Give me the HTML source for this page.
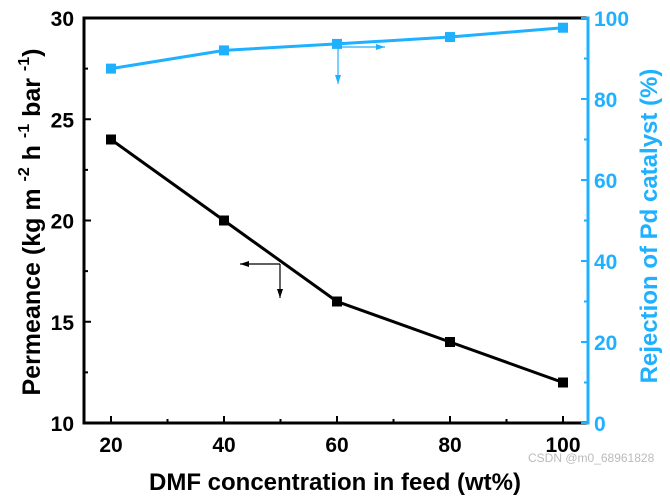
<!DOCTYPE html>
<html><head><meta charset="utf-8"><style>
body{margin:0;background:#fff}
svg{display:block;font-family:"Liberation Sans",Arial,sans-serif;font-weight:bold}
</style></head><body>
<svg id="chart" width="670" height="497" viewBox="0 0 670 497" xmlns="http://www.w3.org/2000/svg"></svg>
<script>
const categories=[20,40,60,80,100];
const permeance=[24,20,16,14,12];
const rejection=[87.5,92,93.6,95.3,97.6];
const xTicks=[20,40,60,80,100];
const yLeftTicks=[10,15,20,25,30];
const yRightTicks=[0,20,40,60,80,100];
const L=84,R=588,T=18,B=423;
const X=v=>111+(v-20)*(563-111)/80;
const YL=v=>B-(v-10)*(B-T)/20;
const YR=v=>B-v*(B-T)/100;
const svg=document.getElementById('chart');
const NS='http://www.w3.org/2000/svg';
function mk(tag,attrs,parent){const e=document.createElementNS(NS,tag);for(const k in attrs)e.setAttribute(k,attrs[k]);(parent||svg).appendChild(e);return e;}
const blue='#1fb1ff';
let e;
e=mk('line',{x1:L,y1:T,x2:R,y2:T,stroke:'#000','stroke-width':3});


e=mk('line',{x1:L,y1:B,x2:R,y2:B,stroke:'#000','stroke-width':3});


e=mk('line',{x1:L,y1:T-1.5,x2:L,y2:B+1.5,stroke:'#000','stroke-width':3});


e=mk('line',{x1:R,y1:T-1.5,x2:R,y2:B+1.5,stroke:blue,'stroke-width':3});


xTicks.forEach((v,i)=>{
 e=mk('line',{x1:X(v),y1:B,x2:X(v),y2:B-7,stroke:'#000','stroke-width':2});
 
 
 if(i<xTicks.length-1){
 e=mk('line',{x1:X(v+10),y1:B,x2:X(v+10),y2:B-4,stroke:'#000','stroke-width':2});
 
 }
 e=mk('text',{x:X(v),y:B+29,'text-anchor':'middle','font-size':21,fill:'#000'});
 e.textContent=v;
 
 
});
yLeftTicks.forEach((v,i)=>{
 e=mk('line',{x1:L,y1:YL(v),x2:L+7,y2:YL(v),stroke:'#000','stroke-width':2});
 
 
 if(i<yLeftTicks.length-1){
 e=mk('line',{x1:L,y1:YL(v+2.5),x2:L+4,y2:YL(v+2.5),stroke:'#000','stroke-width':2});
 
 }
 e=mk('text',{x:L-10,y:YL(v)+8,'text-anchor':'end','font-size':21,fill:'#000'});
 e.textContent=v;
 
 
});
yRightTicks.forEach((v,i)=>{
 e=mk('line',{x1:R,y1:YR(v),x2:R-7,y2:YR(v),stroke:blue,'stroke-width':2});
 
 
 if(i<yRightTicks.length-1){
 e=mk('line',{x1:R,y1:YR(v+10),x2:R-4,y2:YR(v+10),stroke:blue,'stroke-width':2});
 
 }
 e=mk('text',{x:R+6,y:YR(v)+8,'text-anchor':'start','font-size':21,fill:blue});
 e.textContent=v;
 
 
});
function series(vals,Y,color,name){
 e=mk('polyline',{points:categories.map((c,i)=>X(c)+','+Y(vals[i])).join(' '),fill:'none',stroke:color,'stroke-width':3});
 
 
 categories.forEach((c,i)=>{
  e=mk('rect',{x:X(c)-5,y:Y(vals[i])-5,width:10,height:10,fill:color});
  
  
 });
}
series(permeance,YL,'#000','permeance');
series(rejection,YR,blue,'rejection');
function arrow(x1,y1,x2,y2,color,name){
 e=mk('line',{x1,y1,x2,y2,stroke:color,'stroke-width':1.2});
 
 
 const a=Math.atan2(y2-y1,x2-x1),s=9,w=3;
 const p=[[x2,y2],[x2-s*Math.cos(a)+w*Math.sin(a),y2-s*Math.sin(a)-w*Math.cos(a)],[x2-s*Math.cos(a)-w*Math.sin(a),y2-s*Math.sin(a)+w*Math.cos(a)]];
 e=mk('polygon',{points:p.map(q=>q.join(',')).join(' '),fill:color});
 
 
}
arrow(280,264,240,264,'#000','left-axis-arrow-h');
arrow(280,264,280,298,'#000','left-axis-arrow-v');
arrow(338,47,385,47,blue,'right-axis-arrow-h');
arrow(338,47,338,84,blue,'right-axis-arrow-v');
e=mk('text',{x:335,y:490,'text-anchor':'middle','font-size':24,fill:'#000'});
e.textContent='DMF concentration in feed (wt%)';


e=mk('text',{transform:'translate(40,222) rotate(-90)','text-anchor':'middle','font-size':25,fill:'#000'});
e.innerHTML='Permeance (kg m <tspan dy="-11" font-size="16">-2</tspan><tspan dy="11">  h </tspan><tspan dy="-11" font-size="16">-1</tspan><tspan dy="11">  bar </tspan><tspan dy="-11" font-size="16">-1</tspan><tspan dy="11">)</tspan>';


e=mk('text',{transform:'translate(657,226) rotate(-90)','text-anchor':'middle','font-size':24,fill:blue});
e.textContent='Rejection of Pd catalyst (%)';


e=mk('text',{x:528,y:462,'font-size':12,'font-weight':'normal',fill:'#bbb'});
e.textContent='CSDN @m0_68961828';


</script>
</body></html>
